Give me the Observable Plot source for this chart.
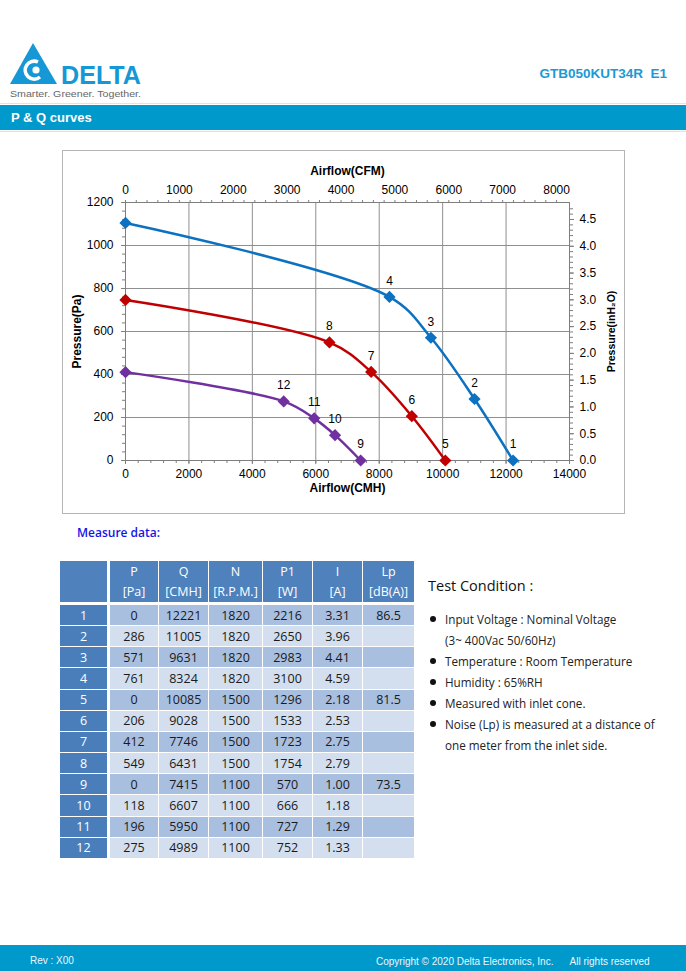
<!DOCTYPE html>
<html><head><meta charset="utf-8">
<script src="https://cdn.jsdelivr.net/npm/d3@7"></script>
<script src="https://cdn.jsdelivr.net/npm/@observablehq/plot@0.6"></script>
<style>
body{margin:0;background:#fff;}
#page{position:relative;width:686px;height:971px;overflow:hidden;font-family:"Liberation Sans",Arial,sans-serif;background:#fff;}
.abs{position:absolute;}
.band{position:absolute;left:0;width:686px;background:#0099cc;}
.cell{position:absolute;display:flex;align-items:center;justify-content:center;font-family:"Open Sans",sans-serif;font-size:12.5px;color:#1a1a1a;box-sizing:border-box;}
.hdr{color:#fff;flex-direction:column;line-height:20px;}
.idx{color:#fff;}
.tc{position:absolute;font-family:"Open Sans",sans-serif;font-size:11.7px;color:#222;white-space:nowrap;line-height:16px;}
.bul{position:absolute;width:6px;height:6px;border-radius:50%;background:#111;}
</style></head>
<body><div id="page">
<svg class="abs" style="left:0;top:0" width="160" height="104">
  <polygon points="10,84 33,43 57,84" fill="#1598d5"/>
  <path d="M38,62 A9,9 0 1 0 40,77" fill="none" stroke="#fff" stroke-width="3.5"/>
  <circle cx="36" cy="70" r="3.6" fill="#fff"/>
  <text x="61" y="84" font-family="Liberation Sans" font-weight="bold" font-size="26" textLength="80" lengthAdjust="spacingAndGlyphs" fill="#1598d5">DELTA</text>
  <text x="10" y="97" font-family="Liberation Sans" font-size="8.5" textLength="131" lengthAdjust="spacingAndGlyphs" fill="#666">Smarter.  Greener.  Together.</text>
</svg>
<div class="abs" style="right:19px;top:66px;font-weight:bold;font-size:13.5px;color:#1a9ad6;white-space:pre;">GTB050KUT34R  E1</div>
<div class="band" style="top:103px;height:1px;background:#cfe9f4"></div>
<div class="band" style="top:105px;height:25px;"></div>
<div class="band" style="top:131px;height:1px;background:#cfe9f4"></div>
<div class="abs" style="left:11px;top:110px;font-weight:bold;font-size:13px;color:#fff;">P &amp; Q curves</div>
<div class="abs" style="left:62px;top:150px;width:561px;height:362px;border:1px solid #b5b5b5;"></div>
<div id="chart" class="abs" style="left:62px;top:150px;"></div>
<div class="abs" style="left:77px;top:524px;font-family:'Open Sans',sans-serif;font-weight:600;font-size:12px;color:#1414e6;">Measure data:</div>
<div id="table"></div>
<div id="cond"></div>
<div class="band" style="top:945px;height:26px;"></div>
<div class="abs" style="left:30px;top:955px;font-size:10px;color:#eaf6fb;">Rev : X00</div>
<div class="abs" style="left:376px;top:956px;font-size:10px;color:#eaf6fb;white-space:pre;">Copyright © 2020 Delta Electronics, Inc.      All rights reserved</div>
</div>
<script>
// ---- data ----
const pointNo = [1, 2, 3, 4, 5, 6, 7, 8, 9, 10, 11, 12];
const pressurePa = [0, 286, 571, 761, 0, 206, 412, 549, 0, 118, 196, 275];
const airflowCMH = [12221, 11005, 9631, 8324, 10085, 9028, 7746, 6431, 7415, 6607, 5950, 4989];
const speedRPM = [1820, 1820, 1820, 1820, 1500, 1500, 1500, 1500, 1100, 1100, 1100, 1100];
const powerW = [2216, 2650, 2983, 3100, 1296, 1533, 1723, 1754, 570, 666, 727, 752];
const currentA = ["3.31", "3.96", "4.41", "4.59", "2.18", "2.53", "2.75", "2.79", "1.00", "1.18", "1.29", "1.33"];
const noiseLp = ["86.5", "", "", "", "81.5", "", "", "", "73.5", "", "", ""];
const speeds = [1820, 1500, 1100];
const shutoffPa = [1105, 747, 411];           // curve start at zero airflow
const curveColors = ["#0b71c0", "#c00000", "#7030a0"];

const cmhTicks = [0, 2000, 4000, 6000, 8000, 10000, 12000, 14000];
const cfmTicks = [0, 1000, 2000, 3000, 4000, 5000, 6000, 7000, 8000];
const paTicks = [0, 200, 400, 600, 800, 1000, 1200];
const inTicks = [0, 0.5, 1, 1.5, 2, 2.5, 3, 3.5, 4, 4.5];
const headerNames = ["P", "Q", "N", "P1", "I", "Lp"];
const headerUnits = ["[Pa]", "[CMH]", "[R.P.M.]", "[W]", "[A]", "[dB(A)]"];
const conditions = [
  ["Input Voltage : Nominal Voltage", "(3~ 400Vac 50/60Hz)"],
  ["Temperature : Room Temperature"],
  ["Humidity : 65%RH"],
  ["Measured with inlet cone."],
  ["Noise (Lp) is measured at a distance of", "one meter from the inlet side."]
];

const CMH_PER_CFM = 1.69901;
const PA_PER_INH2O = 249.089;

// ---- build tables ----
const points = pointNo.map((n, i) => ({no: n, Q: airflowCMH[i], P: pressurePa[i], N: speedRPM[i]}));
const curves = speeds.flatMap((s, k) => [{Q: 0, P: shutoffPa[k], N: s}]
  .concat(points.filter(d => d.N === s).sort((a, b) => a.Q - b.Q)));

const chart = Plot.plot({
  width: 562, height: 363,
  marginLeft: 63, marginRight: 55, marginTop: 52, marginBottom: 53,
  style: {fontFamily: "Liberation Sans, Arial, sans-serif", fontSize: "12px", color: "#000", background: "transparent"},
  x: {domain: [0, 14000]},
  y: {domain: [0, 1200]},
  color: {domain: speeds, range: curveColors},
  marks: [
    Plot.ruleX(cmhTicks.slice(1, -1), {stroke: "#8f8f8f", strokeWidth: 1}),
    Plot.ruleY(paTicks.slice(1, -1), {stroke: "#8f8f8f", strokeWidth: 1}),
    Plot.frame({stroke: "#7f7f7f"}),
    // minor ticks
    Plot.axisX(d3.range(0, 14001, 400), {anchor: "bottom", tickSize: 3, fill: "none", stroke: "#7f7f7f"}),
    Plot.axisX(d3.range(0, 8001, 200).map(c => c * CMH_PER_CFM), {anchor: "top", tickSize: 3, fill: "none", stroke: "#7f7f7f"}),
    Plot.axisY(d3.range(0, 1201, 40), {anchor: "left", tickSize: 3, fill: "none", stroke: "#7f7f7f"}),
    Plot.axisY(d3.range(0, 48).map(v => v * 0.1 * PA_PER_INH2O), {anchor: "right", tickSize: 3, fill: "none", stroke: "#7f7f7f"}),
    // major axes
    Plot.axisX(cmhTicks, {anchor: "bottom", tickSize: 4, tickPadding: 5, stroke: "#7f7f7f", label: null,
      tickFormat: d => String(d)}),
    Plot.axisX(cfmTicks.map(c => c * CMH_PER_CFM), {anchor: "top", tickSize: 0, tickPadding: 9,
      tickFormat: d => String(Math.round(d / CMH_PER_CFM)), label: null}),
    Plot.axisY(paTicks, {anchor: "left", tickSize: 4, tickPadding: 8, stroke: "#7f7f7f", label: null,
      tickFormat: d => String(d)}),
    Plot.axisY(inTicks.map(v => v * PA_PER_INH2O), {anchor: "right", tickSize: 4, tickPadding: 6, stroke: "#7f7f7f",
      tickFormat: d => (d / PA_PER_INH2O).toFixed(1), label: null}),
    // titles
    Plot.text(["Airflow(CMH)"], {frameAnchor: "bottom", dy: 31, fontWeight: "bold", fontSize: 12}),
    Plot.text(["Airflow(CFM)"], {frameAnchor: "top", dy: -36, fontWeight: "bold", fontSize: 12}),
    Plot.text(["Pressure(Pa)"], {frameAnchor: "left", textAnchor: "middle", dx: -48, rotate: -90, fontWeight: "bold", fontSize: 12}),
    Plot.text(["Pressure(inH₂O)"], {frameAnchor: "right", textAnchor: "middle", dx: 42, rotate: -90, fontWeight: "bold", fontSize: 10.5}),
    // curves
    Plot.line(curves, {x: "Q", y: "P", z: "N", stroke: "N", strokeWidth: 2.5, curve: "catmull-rom"}),
    Plot.dot(curves, {x: "Q", y: "P", fill: "N", symbol: "diamond2", r: 5.5, stroke: "none"}),
    Plot.text(points, {x: "Q", y: "P", text: "no", dy: -16, fontSize: 12, fill: "#000"})
  ]
});
document.getElementById("chart").appendChild(chart);

// ---- measure data table ----
const tbl = document.getElementById("table");
const colLeft = [60, 110, 159, 209, 263, 313, 363];
const colW = [47, 48, 49, 53, 49, 49, 51];
function cell(cls, x, y, w, h, bg, html) {
  const d = document.createElement("div");
  d.className = "cell " + cls;
  d.style.cssText = `left:${x}px;top:${y}px;width:${w}px;height:${h}px;background:${bg};`;
  d.innerHTML = html;
  tbl.appendChild(d);
}
cell("hdr", colLeft[0], 561, colW[0], 41, "#4f81bd", "");
headerNames.forEach((h, j) => cell("hdr", colLeft[j + 1], 561, colW[j + 1], 41, "#4f81bd",
  `<span>${h}</span><span>${headerUnits[j]}</span>`));
pointNo.forEach((n, i) => {
  const y = 605 + i * 21.15;
  const bg = i % 2 === 0 ? "#a9bfe0" : "#d3dfef";
  const vals = [pressurePa[i], airflowCMH[i], speedRPM[i], powerW[i], currentA[i], noiseLp[i]];
  cell("idx", colLeft[0], y, colW[0], 20.2, "#4a7ebb", n);
  vals.forEach((v, j) => cell("", colLeft[j + 1], y, colW[j + 1], 20.2, bg, v));
});

// ---- test condition ----
const cond = document.getElementById("cond");
const t = document.createElement("div");
t.className = "tc";
t.style.cssText = "left:428px;top:578px;font-size:14.5px;color:#111;";
t.textContent = "Test Condition :";
cond.appendChild(t);
let yy = 611;
conditions.forEach(lines => {
  const b = document.createElement("div");
  b.className = "bul";
  b.style.cssText = `left:430px;top:${yy + 5}px;`;
  cond.appendChild(b);
  lines.forEach(l => {
    const e = document.createElement("div");
    e.className = "tc";
    e.style.cssText = `left:445px;top:${yy}px;`;
    e.textContent = l;
    cond.appendChild(e);
    yy += 21;
  });
});
</script>
</body></html>
